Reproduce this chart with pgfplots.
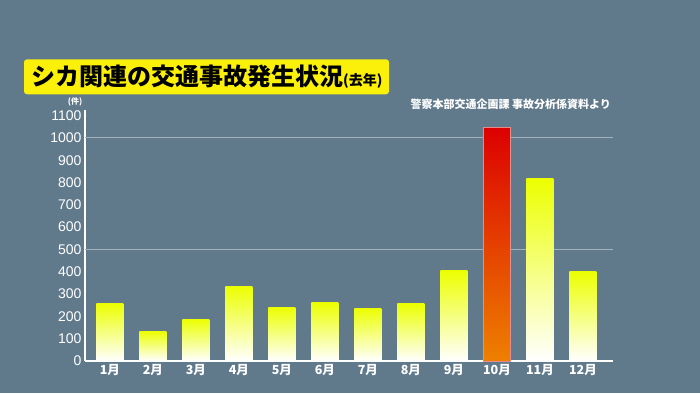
\documentclass[border=0pt]{standalone}
\usepackage{fontspec}
\setmainfont{Liberation Sans}
\newfontfamily\cjk{Noto Sans CJK JP}
\usepackage{pgfplots}
\pgfplotsset{compat=1.18}
\definecolor{bg}{RGB}{96,122,140}
\definecolor{ttl}{RGB}{250,240,10}
\definecolor{byel}{RGB}{236,255,0}
\definecolor{gridc}{RGB}{160,178,190}
\definecolor{dred}{RGB}{220,0,0}
\definecolor{dorg}{RGB}{238,128,0}
\definecolor{pinkb}{RGB}{230,140,140}
\pgfplotsset{ybarY/.style={ybar, bar width=27pt, bar shift=0pt, draw=none, top color=byel, middle color=byel!55!white, bottom color=white}}
\begin{document}
\begin{tikzpicture}
\fill[bg] (0pt,0pt) rectangle (700pt,393pt);
\fill[ttl, rounded corners=3pt] (24pt,298.7pt) rectangle (389pt,333.7pt);
\node[anchor=west, inner sep=0pt, text=black] at (31pt,316pt) {\cjk\bfseries\fontsize{24}{24}\selectfont シカ関連の交通事故発生状況\fontsize{14}{14}\selectfont (去年)};
\node[anchor=east, inner sep=0pt, text=white] at (611pt,289pt) {\cjk\bfseries\fontsize{11}{12}\selectfont 警察本部交通企画課 事故分析係資料より};
\node[inner sep=0pt, text=white] at (75pt,291pt) {\cjk\bfseries\fontsize{8}{8}\selectfont (件)};
\begin{axis}[at={(85pt,32pt)}, anchor=south west, scale only axis,
  width=528pt, height=251pt,
  xmin=-0.58, xmax=11.7, ymin=0, ymax=1125,
  axis lines=left, axis line style={white, line width=1.5pt, -},
  major tick length=0pt,
  ytick={0,100,...,1100},
  xtick={0,...,11},
  xticklabels={1月,2月,3月,4月,5月,6月,7月,8月,9月,10月,11月,12月},
  tick label style={text=white},
  yticklabel style={font=\fontsize{14}{14}\selectfont},
  xticklabel style={font=\cjk\bfseries\fontsize{12.5}{12.5}\selectfont},
  /pgf/number format/assume math mode=true,
  /pgf/number format/1000 sep={},
  extra y ticks={500,1000}, extra y tick labels={},
  extra y tick style={grid=major, major grid style={gridc, line width=0.8pt}},
  clip=false]
\addplot[ybarY] coordinates {(0,259)};
\addplot[ybarY] coordinates {(1,134)};
\addplot[ybarY] coordinates {(2,187)};
\addplot[ybarY] coordinates {(3,336)};
\addplot[ybarY] coordinates {(4,242)};
\addplot[ybarY] coordinates {(5,261)};
\addplot[ybarY] coordinates {(6,237)};
\addplot[ybarY] coordinates {(7,259)};
\addplot[ybarY] coordinates {(8,406)};
\addplot[ybar, bar width=27pt, bar shift=0pt, draw=pinkb, line width=0.8pt, top color=dred, middle color={rgb,255:red,228;green,50;blue,0}, bottom color=dorg]
  coordinates {(9,1048)};
\addplot[ybarY] coordinates {(10,817)};
\addplot[ybarY] coordinates {(11,402)};
\end{axis}
\pgfresetboundingbox
\useasboundingbox (0pt,0pt) rectangle (700pt,393pt);
\end{tikzpicture}
\end{document}
